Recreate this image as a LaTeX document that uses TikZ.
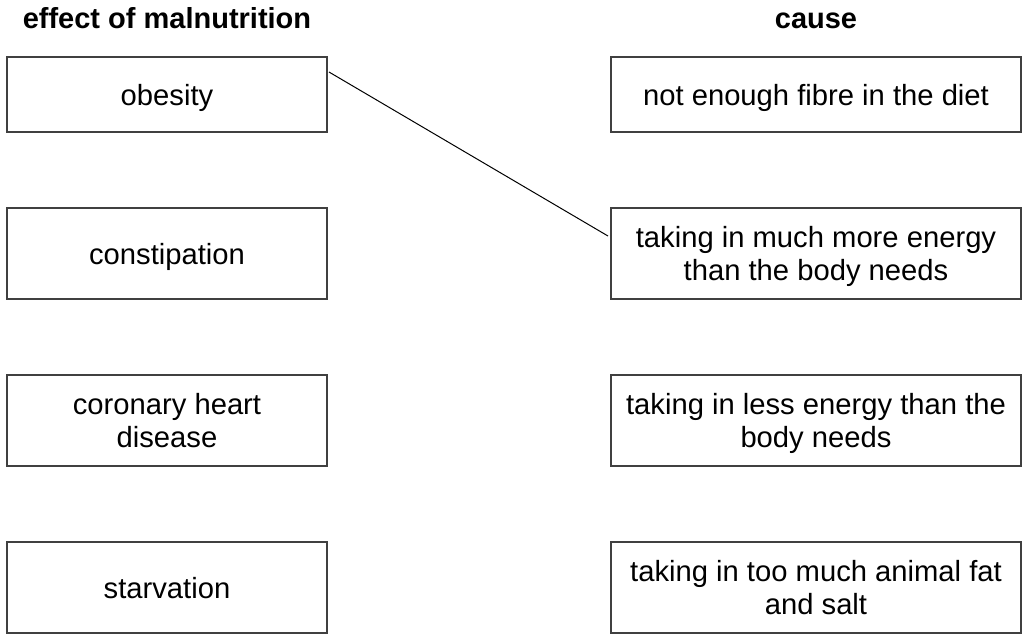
\documentclass[tikz,border=0pt]{standalone}
\usepackage{fontspec}
\setmainfont{Liberation Sans}
\usetikzlibrary{positioning}

\begin{document}
\begin{tikzpicture}[x=0.5pt, y=-0.5pt, node distance=38pt and 142pt]
  \tikzstyle{card} = [rectangle, draw=black!75, line width=0.6pt, align=center, text centered,
                      inner sep=0pt, outer sep=0pt, text depth=0pt, font=\fontsize{14.6}{16.5}\selectfont]
  \tikzstyle{effect} = [card, minimum width=160pt]
  \tikzstyle{cause} = [card, minimum width=205pt]
  \tikzstyle{heading} = [font=\fontsize{14.5}{16.5}\selectfont\bfseries, anchor=base, inner sep=0pt]
  \useasboundingbox (0,0) rectangle (1025,634);
  \node[heading] (hEffect) at (167,28) {effect of malnutrition};
  \node[heading] (hCause) at (816,28) {cause};
  % effects
  \node[effect, minimum height=37.5pt] (obes) at (167,94.5) {obesity};
  \node[effect, minimum height=45.5pt, below=of obes] (const) {constipation};
  \node[effect, minimum height=45.5pt, below=of const] (chd) {coronary heart\\disease};
  \node[effect, minimum height=45.5pt, below=of chd] (starv) {starvation};
  % causes
  \node[cause, minimum height=37.5pt, right=of obes] (fibre) {not enough fibre in the diet};
  \node[cause, minimum height=45.5pt, below=of fibre] (more) {taking in much more energy\\than the body needs};
  \node[cause, minimum height=45.5pt, below=of more] (less) {taking in less energy than the\\body needs};
  \node[cause, minimum height=45.5pt, below=of less] (fat) {taking in too much animal fat\\and salt};
  \draw[line width=0.5pt] ([xshift=1pt,yshift=11.25pt]obes.east) -- ([xshift=-1.5pt,yshift=8.75pt]more.west);
\end{tikzpicture}
\end{document}
